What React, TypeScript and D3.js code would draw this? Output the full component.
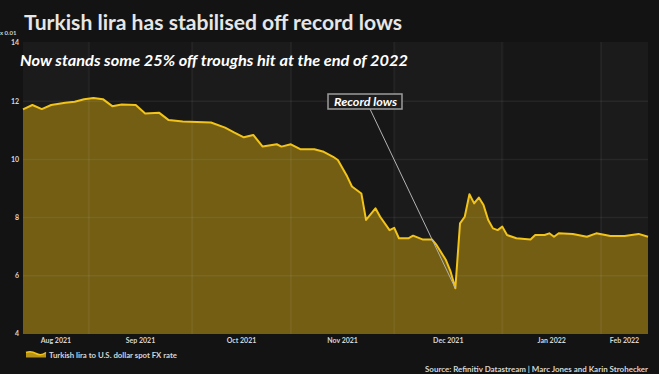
import React from "react";
import * as d3 from "d3";

const dates: string[] = [
  "2021-08-12", "2021-08-16", "2021-08-18", "2021-08-20", "2021-08-25", "2021-08-27", "2021-08-31",
  "2021-09-02", "2021-09-06", "2021-09-08", "2021-09-10", "2021-09-15", "2021-09-17", "2021-09-22", "2021-09-24", "2021-09-29",
  "2021-10-07", "2021-10-12", "2021-10-14", "2021-10-18", "2021-10-20", "2021-10-22", "2021-10-27", "2021-10-28",
  "2021-11-01", "2021-11-03", "2021-11-08", "2021-11-10", "2021-11-12", "2021-11-15", "2021-11-17", "2021-11-18", "2021-11-22", "2021-11-23", "2021-11-25", "2021-11-26", "2021-11-30",
  "2021-12-01", "2021-12-02", "2021-12-06", "2021-12-07", "2021-12-09", "2021-12-13", "2021-12-14", "2021-12-16", "2021-12-17", "2021-12-20", "2021-12-21", "2021-12-22", "2021-12-23", "2021-12-24", "2021-12-27", "2021-12-28", "2021-12-29", "2021-12-30", "2021-12-31",
  "2022-01-03", "2022-01-04", "2022-01-06", "2022-01-11", "2022-01-12", "2022-01-14", "2022-01-17", "2022-01-18", "2022-01-19", "2022-01-24", "2022-01-27", "2022-01-31",
  "2022-02-03", "2022-02-08", "2022-02-11", "2022-02-15",
];

const values: number[] = [
  11.72, 11.87, 11.73, 11.87, 11.95, 11.98, 12.07,
  12.11, 12.07, 11.83, 11.89, 11.87, 11.58, 11.6, 11.35, 11.3,
  11.27, 11.09, 10.92, 10.76, 10.84, 10.44, 10.52, 10.44,
  10.52, 10.35, 10.35, 10.26, 10.09, 9.98, 9.41, 9.07, 8.83, 7.92, 8.32, 8.03, 7.57,
  7.65, 7.29, 7.29, 7.38, 7.25, 7.25, 7.06, 6.54, 6.14, 5.57, 7.8, 8.03, 8.8, 8.49, 8.69, 8.43, 7.92, 7.63, 7.57,
  7.69, 7.4, 7.29, 7.25, 7.4, 7.4, 7.46, 7.34, 7.46, 7.44, 7.34, 7.46,
  7.37, 7.37, 7.44, 7.34,
];

const yTicks: number[] = [4, 6, 8, 10, 12, 14];
const monthLabels: string[] = ["Aug 2021", "Sep 2021", "Oct 2021", "Nov 2021", "Dec 2021", "Jan 2022", "Feb 2022"];
const recordLowDate = "2021-12-20";

const title = "Turkish lira has stabilised off record lows";
const subtitle = "Now stands some 25% off troughs hit at the end of 2022";
const seriesName = "Turkish lira to U.S. dollar spot FX rate";
const source = "Source: Refinitiv Datastream | Marc Jones and  Karin Strohecker";
const annotationText = "Record lows";
const unitLabel = "x 0.01";

const W = 659;
const H = 374;
const M = { left: 23, right: 648, top: 43, bottom: 334 };
const FONT = "Lato, 'Open Sans', sans-serif";

const parse = d3.timeParse("%Y-%m-%d");
const fmt = d3.timeFormat("%Y-%m-%d");

// trading-day axis (weekdays only)
const start = parse(dates[0])!;
const end = parse(dates[dates.length - 1])!;
const tradingDays = d3.timeDay.range(start, d3.timeDay.offset(end, 1)).filter((d) => d.getDay() % 6 !== 0);
const dayIndex = new Map(tradingDays.map((d, i) => [fmt(d), i]));

const x = d3.scaleLinear().domain([0, tradingDays.length - 1]).range([M.left, M.right]);
const y = d3.scaleLinear().domain([4, 14]).range([M.bottom, M.top]);

const data = dates.map((d, i) => ({ i: dayIndex.get(d)!, v: values[i] }));

// month boundaries: first trading day of each month
const monthStarts: number[] = [];
tradingDays.forEach((d, i) => {
  if (i === 0 || d.getMonth() !== tradingDays[i - 1].getMonth()) monthStarts.push(i);
});

export default function App() {
  const area = d3
    .area<{ i: number; v: number }>()
    .x((d) => x(d.i))
    .y0(y(4))
    .y1((d) => y(d.v));
  const line = d3
    .line<{ i: number; v: number }>()
    .x((d) => x(d.i))
    .y((d) => y(d.v));

  const bands = monthStarts.map((s, k) => {
    const x0 = k === 0 ? M.left : x(s) ;
    const x1 = k === monthStarts.length - 1 ? M.right : x(monthStarts[k + 1]);
    return { x0, x1, k };
  });

  const lowIdx = dayIndex.get(recordLowDate)!;
  const lowVal = values[dates.indexOf(recordLowDate)];
  const boxX = 328, boxY = 94, boxW = 74, boxH = 15;

  return (
    <svg
      width={W}
      height={H}
      style={{ position: "absolute", left: 0, top: 0, display: "block" }}
      fontFamily={FONT}
    >
      <rect x={0} y={0} width={W} height={H} fill="#131313" />
      {/* plot bands */}
      {bands.map((b) => (
        <rect
          key={"b" + b.k}
          x={b.x0}
          y={M.top - 1}
          width={b.x1 - b.x0}
          height={M.bottom - M.top + 1}
          fill={b.k % 2 === 0 ? "#1b1b1b" : "#171717"}
        />
      ))}

      {/* area + line */}
      <path d={area(data) || ""} fill="#735e14" />
      {/* grid lines */}
      {yTicks.slice(1, -1).map((t) => (
        <line key={"gy" + t} x1={M.left} x2={M.right} y1={y(t)} y2={y(t)} stroke="rgba(255,255,255,0.06)" strokeWidth={1.5} />
      ))}
      {monthStarts.slice(1).map((s) => (
        <line key={"gx" + s} x1={x(s)} x2={x(s)} y1={M.top - 1} y2={M.bottom} stroke="rgba(255,255,255,0.05)" strokeWidth={2} />
      ))}
      <path d={line(data) || ""} fill="none" stroke="#f2c318" strokeWidth={2} strokeLinejoin="round" />

      {/* annotation */}
      <line x1={370} y1={boxY + boxH} x2={x(lowIdx)} y2={y(lowVal)} stroke="#b4b4b4" strokeWidth={1} />
      <rect x={boxX} y={boxY} width={boxW} height={boxH} fill="#1c1c1c" stroke="#9c9c9c" strokeWidth={1.5} />
      <text x={334} y={105.5} fill="#ffffff" fontSize={11.5} fontWeight={700} fontStyle="italic" textLength={63} lengthAdjust="spacingAndGlyphs">
        {annotationText}
      </text>

      {/* y axis */}
      <text x={0} y={35} fill="#cfcfcf" fontSize={6} fontWeight={700}>{unitLabel}</text>
      {yTicks.map((t) => (
        <text key={"yt" + t} x={19} y={y(t)} dy="0.35em" textAnchor="end" fill="#d6d6d6" fontSize={7} fontWeight={700}>
          {t}
        </text>
      ))}

      {/* x axis labels centered in month bands */}
      {bands.map((b) => (
        <text
          key={"xl" + b.k}
          x={(b.x0 + b.x1) / 2}
          y={343}
          textAnchor="middle"
          fill="#d6d6d6"
          fontSize={7}
          fontWeight={700}
        >
          {monthLabels[b.k]}
        </text>
      ))}

      {/* title */}
      <text x={24} y={30} fill="#e6e6e6" fontSize={20} fontWeight={700} textLength={378} lengthAdjust="spacingAndGlyphs">
        {title}
      </text>
      <text x={20} y={66} fill="#ffffff" fontSize={16} fontWeight={700} fontStyle="italic" textLength={388} lengthAdjust="spacingAndGlyphs">
        {subtitle}
      </text>

      {/* legend */}
      <path d="M26,357.5 L26,352.5 Q31,350.5 36,353.5 T46,352.5 L46,357.5 Z" fill="#b8931a" />
      <path d="M26,352.5 Q31,350.5 36,353.5 T46,352.5" fill="none" stroke="#f2c318" strokeWidth={1.5} />
      <text x={49} y={358} fill="#d6d6d6" fontSize={8} fontWeight={700} textLength={128} lengthAdjust="spacingAndGlyphs">
        {seriesName}
      </text>

      {/* source */}
      <text x={425} y={372} fill="#d6d6d6" fontSize={8} fontWeight={700} textLength={223} lengthAdjust="spacingAndGlyphs">
        {source}
      </text>
    </svg>
  );
}
